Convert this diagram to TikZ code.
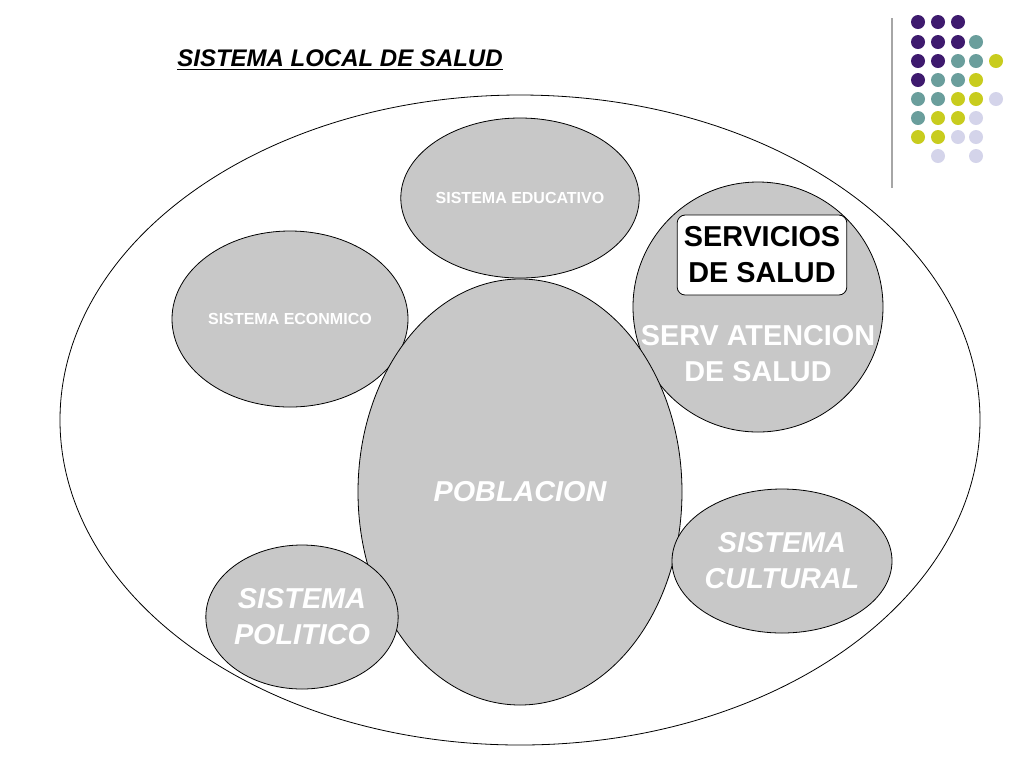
\documentclass[tikz,border=0pt]{standalone}
\usepackage{fontspec}
\setmainfont{Liberation Sans}
\usetikzlibrary{shapes.geometric}
\definecolor{blobgray}{HTML}{C8C8C8}
\definecolor{dotpurple}{HTML}{3E1A6E}
\definecolor{dotteal}{HTML}{6A9E9C}
\definecolor{dotyellow}{HTML}{C8CC1E}
\definecolor{dotlav}{HTML}{D4D4EA}

\begin{document}
\begin{tikzpicture}[
  x=0.5pt, y=-0.5pt,
  blob/.style={draw, ellipse, fill=blobgray, inner sep=0pt, text=white, align=center, font=\bfseries},
  dot/.style={circle, inner sep=0pt, minimum size=7pt}
  ]
  \useasboundingbox (0,0) rectangle (1024,768);

  \node[font=\bfseries\itshape\large] (title) at (340,60) {\underline{SISTEMA LOCAL DE SALUD}};

  \node[draw, ellipse, minimum width=460pt, minimum height=325pt] (sls) at (520,420) {};

  \node[blob, minimum width=115pt, minimum height=80pt, font=\bfseries\footnotesize] (edu) at (520,198) {SISTEMA EDUCATIVO};
  \node[blob, minimum width=118pt, minimum height=88pt, font=\bfseries\footnotesize] (eco) at (290,319) {SISTEMA ECONMICO};
  \node[blob, minimum width=125pt, minimum height=125pt] (aten) at (758,307) {};
  \node[text=white, align=center, font=\bfseries\Large] (atentxt) at (758,354) {SERV ATENCION\\DE SALUD};
  \node[draw, rounded corners=4pt, fill=white, minimum width=80pt, minimum height=40pt, align=center, font=\bfseries\Large] (serv) at (762,255) {SERVICIOS\\DE SALUD};
  \node[blob, minimum width=162pt, minimum height=213pt, font=\bfseries\itshape\Large] (pob) at (520,492) {POBLACION};
  \node[blob, minimum width=110pt, minimum height=72pt, font=\bfseries\itshape\Large] (cul) at (782,561) {SISTEMA\\CULTURAL};
  \node[blob, minimum width=80pt, minimum height=72pt, font=\bfseries\itshape\Large] (pol) at (302,617) {SISTEMA\\POLITICO};

  % decoracion
  \draw[gray!70, line width=1pt] (892,18) -- (892,188);
  \foreach \c/\x/\y in {
    dotpurple/918/22, dotpurple/938/22, dotpurple/958/22,
    dotpurple/918/42, dotpurple/938/42, dotpurple/958/42, dotteal/976/42,
    dotpurple/918/61, dotpurple/938/61, dotteal/958/61, dotteal/976/61, dotyellow/996/61,
    dotpurple/918/80, dotteal/938/80, dotteal/958/80, dotyellow/976/80,
    dotteal/918/99, dotteal/938/99, dotyellow/958/99, dotyellow/976/99, dotlav/996/99,
    dotteal/918/118, dotyellow/938/118, dotyellow/958/118, dotlav/976/118,
    dotyellow/918/137, dotyellow/938/137, dotlav/958/137, dotlav/976/137,
    dotlav/938/156, dotlav/976/156}
    \node[dot, fill=\c] at (\x,\y) {};
\end{tikzpicture}
\end{document}
